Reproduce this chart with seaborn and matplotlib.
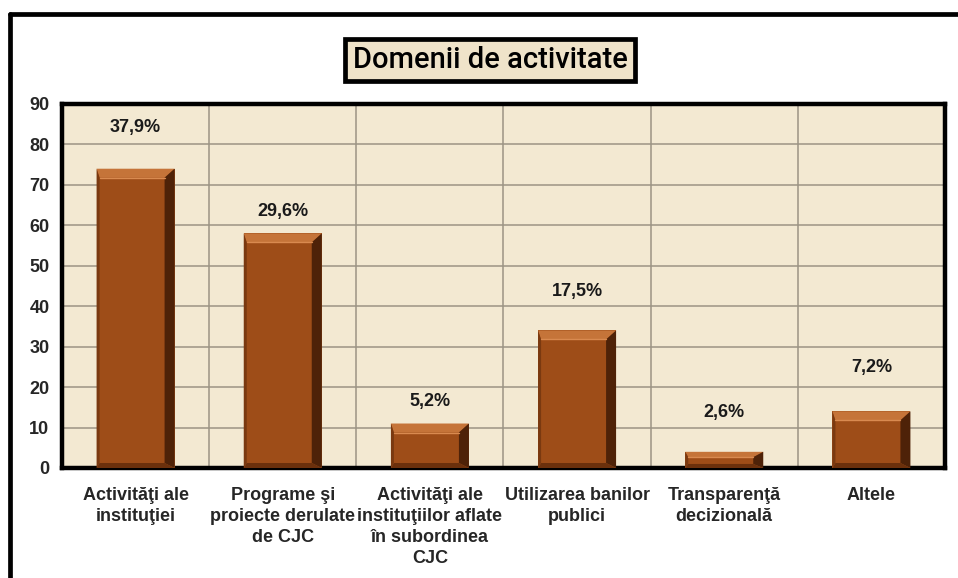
import pandas as pd
import seaborn as sns
import matplotlib.pyplot as plt
from matplotlib.patches import Polygon
from matplotlib.lines import Line2D

# data
categories = [
    "Activităţi ale\ninstituţiei",
    "Programe şi\nproiecte derulate\nde CJC",
    "Activităţi ale\ninstituţiilor aflate\nîn subordinea\nCJC",
    "Utilizarea banilor\npublici",
    "Transparenţă\ndecizională",
    "Altele",
]
counts = [74, 58, 11, 34, 4, 14]
percent_labels = ["37,9%", "29,6%", "5,2%", "17,5%", "2,6%", "7,2%"]

# distance of each percent label above its bar, in pixels
label_pad_px = [41, 22, 22, 39, 39, 44]

PARCHMENT = "#F3E9D2"
BAR_FACE = "#9E4D18"
BAR_TOP = "#C57439"
BAR_RIGHT = "#4E2208"
BAR_BOTTOM = "#6B300C"
BAR_LEFT = "#7A3910"

sns.set_style("white")
plt.rcParams["font.family"] = ["Liberation Sans", "DejaVu Sans"]

df = pd.DataFrame({"domeniu": categories, "numar": counts})

fig = plt.figure(figsize=(9.58, 5.78), dpi=100)
ax = fig.add_axes([62 / 958, 110 / 578, 883 / 958, 364 / 578])

sns.barplot(data=df, x="domeniu", y="numar", color=BAR_FACE, width=0.53,
            saturation=1, edgecolor="none", ax=ax, zorder=3)

ax.set_facecolor(PARCHMENT)
ax.set_ylim(0, 90)
ax.set_xlim(-0.5, len(categories) - 0.5)
ax.set_yticks(range(0, 91, 10))
ax.set_xticks([i + 0.5 for i in range(len(categories) - 1)], minor=True)
ax.grid(axis="y", which="major", color="#9C9484", linewidth=1.1, zorder=1)
ax.grid(axis="x", which="minor", color="#9C9484", linewidth=1.1, zorder=1)
ax.grid(axis="x", which="major", visible=False)
ax.set_axisbelow(True)
ax.set_xlabel("")
ax.set_ylabel("")
ax.tick_params(axis="both", which="both", length=0)
ax.tick_params(axis="y", pad=9, labelsize=13)
ax.tick_params(axis="x", pad=14, labelsize=13)
for lab in ax.get_yticklabels():
    lab.set_fontweight("bold")
for lab in ax.get_xticklabels():
    lab.set_fontweight("bold")
    lab.set_linespacing(1.3)
    lab.set_verticalalignment("top")
for sp in ax.spines.values():
    sp.set_visible(True)
    sp.set_color("black")
    sp.set_linewidth(3.2)

# bevelled look on every bar, built from the bar geometry
px_x = (len(categories)) / 883
px_y = 90 / 364
for bar in ax.patches:
    x0 = bar.get_x()
    w = bar.get_width()
    h = bar.get_height()
    x1 = x0 + w
    bx = min(10 * px_x, w / 4)
    by = min(9 * px_y, h / 3)
    bb = min(5 * px_y, h / 4)
    bl = min(3 * px_x, w / 8)
    parts = [
        ([(x0, h), (x1, h), (x1 - bx, h - by), (x0 + bl, h - by)], BAR_TOP),
        ([(x1, h), (x1, 0), (x1 - bx, bb), (x1 - bx, h - by)], BAR_RIGHT),
        ([(x0, 0), (x1, 0), (x1 - bx, bb), (x0 + bl, bb)], BAR_BOTTOM),
        ([(x0, 0), (x0, h), (x0 + bl, h - by), (x0 + bl, bb)], BAR_LEFT),
    ]
    for pts, col in parts:
        ax.add_patch(Polygon(pts, closed=True, facecolor=col, edgecolor="none", zorder=4))
    ax.plot([x0 + bl, x1 - bx], [h - by, h - by], color="#D98A50", linewidth=1.0, zorder=5)

for i, (val, txt) in enumerate(zip(counts, percent_labels)):
    ax.annotate(txt, xy=(i, val), xytext=(0, label_pad_px[i] * 0.72),
                textcoords="offset points", ha="center", va="center",
                fontsize=13, fontweight="bold", color="#1A1A1A", zorder=6)

# title in its own framed box
fig.text(490 / 958, 1 - 60 / 578, "Domenii de activitate", ha="center", va="center",
         fontsize=21, family=["Roboto", "DejaVu Sans"], fontweight="medium", color="black",
         bbox=dict(boxstyle="square,pad=0.25", facecolor="#EFE3C9",
                   edgecolor="black", linewidth=3.4))

# outer frame (top and left edges visible in the reference)
fig.add_artist(Line2D([10 / 958, 1.0], [1 - 14 / 578, 1 - 14 / 578],
                      color="black", linewidth=3.4, transform=fig.transFigure))
fig.add_artist(Line2D([10 / 958, 10 / 958], [0.0, 1 - 14 / 578],
                      color="black", linewidth=3.4, transform=fig.transFigure))

fig.savefig("out.png", dpi=100, facecolor="white")
